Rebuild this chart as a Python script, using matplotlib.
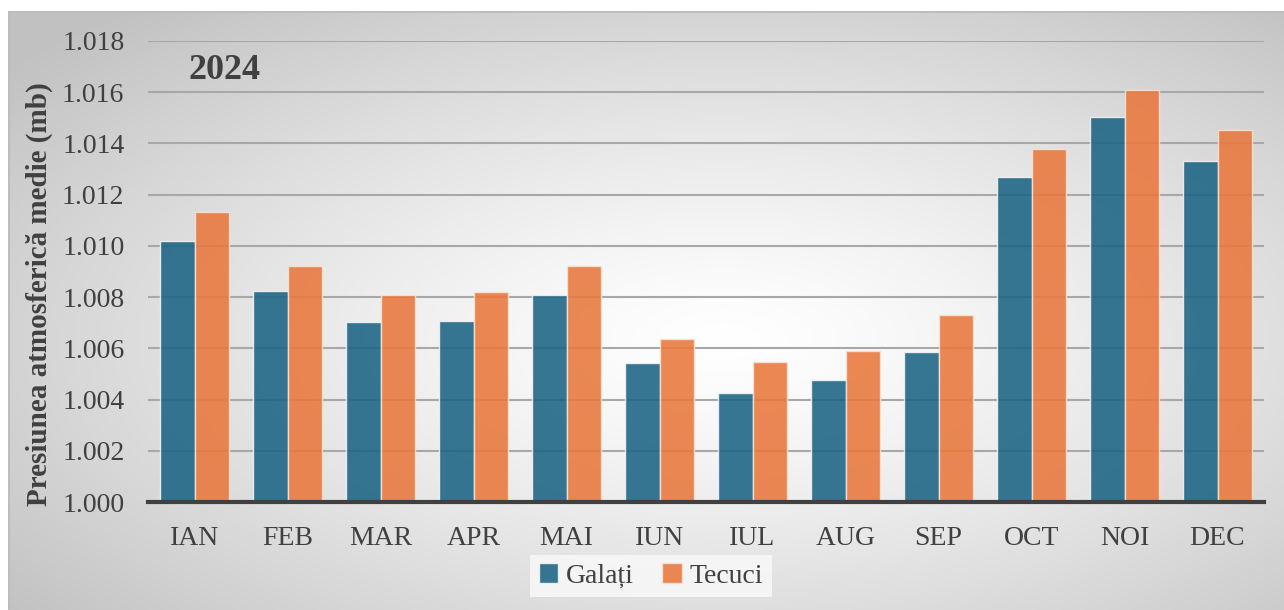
import numpy as np
import matplotlib.pyplot as plt

months = ["IAN", "FEB", "MAR", "APR", "MAI", "IUN",
          "IUL", "AUG", "SEP", "OCT", "NOI", "DEC"]
galati = [1.0102, 1.00824, 1.00703, 1.00707, 1.00809, 1.00544,
          1.00427, 1.00477, 1.00587, 1.01268, 1.01503, 1.01331]
tecuci = [1.01133, 1.00922, 1.00809, 1.0082, 1.00922, 1.00636,
          1.00548, 1.00591, 1.00729, 1.01378, 1.01608, 1.01453]
yticks = [1.000, 1.002, 1.004, 1.006, 1.008, 1.010, 1.012, 1.014, 1.016, 1.018]

BLUE = "#1b6485"
ORANGE = "#e8773c"
TXT = "#404040"
SERIF = ["Liberation Serif", "DejaVu Serif"]

W, H = 1284, 610
fig = plt.figure(figsize=(W / 100, H / 100), dpi=100)

# radial gradient background inside the frame
bg = fig.add_axes([8 / W, 0, (W - 8) / W, (H - 11) / H])
bg.set_axis_off()
yy, xx = np.mgrid[0:300, 0:640]
cx, cy = 0.56 * 640, 0.55 * 300
r = np.sqrt(((xx - cx) / 640) ** 2 + ((yy - cy) / 300) ** 2)
r = np.clip(r / 0.72, 0, 1)
val = 1.0 - 0.24 * r ** 1.3
bg.imshow(np.dstack([val, val, val]), aspect="auto", extent=[0, 1, 0, 1],
          interpolation="bilinear")
bg.plot([0, 1], [0.999, 0.999], color="#bdbdbd", lw=1.5, transform=bg.transAxes)
bg.plot([0.0005, 0.0005], [0, 1], color="#bdbdbd", lw=1.5, transform=bg.transAxes)
bg.set_xlim(0, 1)
bg.set_ylim(0, 1)

ax = fig.add_axes([148 / W, (H - 502) / H, (1264 - 148) / W, (502 - 41) / H])
ax.patch.set_alpha(0)

x = np.arange(len(months))
w = 0.375
ax.bar(x - w / 2, [v - 1.0 for v in galati], w, bottom=1.0, color=BLUE, alpha=0.88,
       edgecolor="#f4f4f4", linewidth=1.0, label="Galați", zorder=3)
ax.bar(x + w / 2, [v - 1.0 for v in tecuci], w, bottom=1.0, color=ORANGE, alpha=0.88,
       edgecolor="#f6e2d6", linewidth=1.0, label="Tecuci", zorder=3)

ax.set_ylim(1.0, 1.018)
ax.set_xlim(-0.5, len(months) - 0.5)
ax.set_yticks(yticks)
ax.set_yticklabels([f"{t:.3f}" for t in yticks])
ax.set_xticks(x)
ax.set_xticklabels(months)
ax.yaxis.grid(True, color="#a8a8a8", lw=1.5, zorder=1)
ax.set_axisbelow(True)
for s in ["top", "right", "left"]:
    ax.spines[s].set_visible(False)
ax.spines["bottom"].set_color("#404040")
ax.spines["bottom"].set_linewidth(3)
ax.spines["bottom"].set_zorder(4)
ax.tick_params(length=0, labelcolor=TXT, labelsize=20)
ax.tick_params(axis="y", pad=17)
ax.tick_params(axis="x", pad=17)
for lab in ax.get_xticklabels() + ax.get_yticklabels():
    lab.set_family(SERIF)

ax.set_ylabel("Presiunea atmosferică medie (mb)", family=SERIF, fontsize=21,
              fontweight="bold", color=TXT)
ax.yaxis.set_label_coords(-0.085, 0.45)

ax.text(0.036, 0.935, "2024", transform=ax.transAxes, family=SERIF,
        fontsize=26, fontweight="bold", color=TXT, va="center", ha="left")

leg = fig.legend(loc="center", bbox_to_anchor=(651 / W, (H - 576) / H), ncol=2,
                 frameon=True, fancybox=False, prop={"family": SERIF, "size": 20},
                 handlelength=0.7, handleheight=0.7, handletextpad=0.3,
                 columnspacing=1.0, borderpad=0.3)
leg.get_frame().set_facecolor("#f7f7f7")
leg.get_frame().set_edgecolor("none")
leg.get_frame().set_alpha(0.9)
for t in leg.get_texts():
    t.set_color(TXT)

fig.savefig("out.png", dpi=100)
